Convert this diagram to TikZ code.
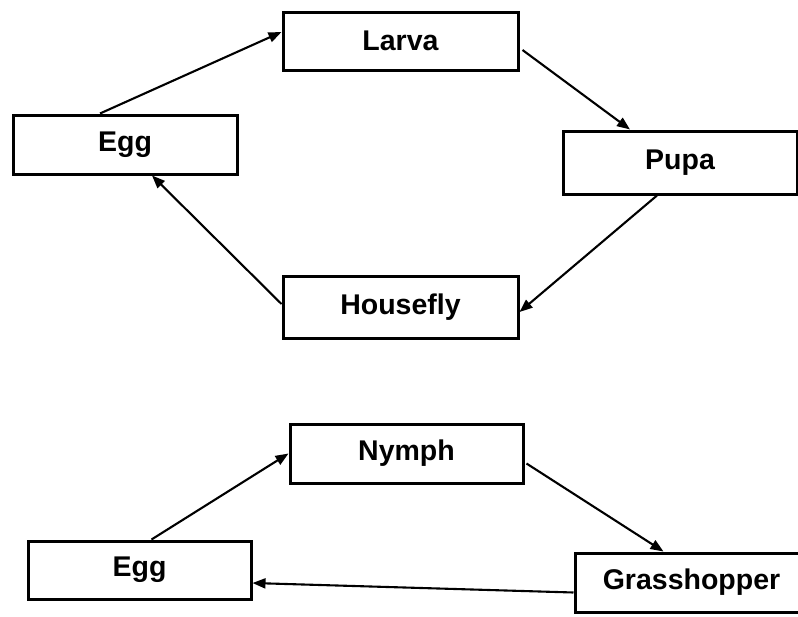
\documentclass[tikz,border=0pt]{standalone}
\usepackage{fontspec}
\setmainfont{Liberation Sans}
\usetikzlibrary{arrows.meta}
\begin{document}
\begin{tikzpicture}[x=1pt,y=-1pt,
  stage/.style={draw=black, line width=3pt, fill=white, inner sep=0pt,
    font=\fontsize{28.5}{32}\selectfont\bfseries},
  flow/.style={line width=2.1pt, -{Triangle[length=13pt,width=10pt]}}]
  \useasboundingbox (0,0) rectangle (798,616);
  \clip (0,0) rectangle (798,616);
  \fill[white] (0,0) rectangle (798,616);

  % housefly cycle
  \node[stage, minimum width=235pt, minimum height=58pt] (larva) at (400.5,41) {Larva};
  \node[stage, minimum width=224pt, minimum height=59pt] (egga) at (125,144.5) {Egg};
  \node[stage, minimum width=234pt, minimum height=63pt] (pupa) at (680,162.5) {Pupa};
  \node[stage, minimum width=235pt, minimum height=62pt] (housefly) at (400.5,307) {Housefly};

  % grasshopper cycle
  \node[stage, minimum width=233pt, minimum height=59pt] (nymph) at (406.5,453.5) {Nymph};
  \node[stage, minimum width=223pt, minimum height=58pt] (eggb) at (139.5,570) {Egg};
  \node[stage, minimum width=233pt, minimum height=59pt] (grass) at (691.5,582.5) {Grasshopper};

  \draw[flow] ([xshift=-25pt]egga.north) -- ([yshift=9pt]larva.west);
  \draw[flow] ([yshift=-9pt,xshift=3pt]larva.east) -- ([xshift=-50pt]pupa.north);
  \draw[flow] ([xshift=-23pt]pupa.south) -- ([yshift=-5pt]housefly.east);
  \draw[flow] ([yshift=3pt]housefly.west) -- ([xshift=27pt]egga.south);

  \draw[flow] ([xshift=12pt]eggb.north) -- (nymph.west);
  \draw[flow] ([yshift=-10pt,xshift=2pt]nymph.east) -- ([xshift=-28pt]grass.north);
  \draw[flow] ([yshift=-10pt]grass.west) -- ([yshift=-13pt]eggb.east);
\end{tikzpicture}
\end{document}
